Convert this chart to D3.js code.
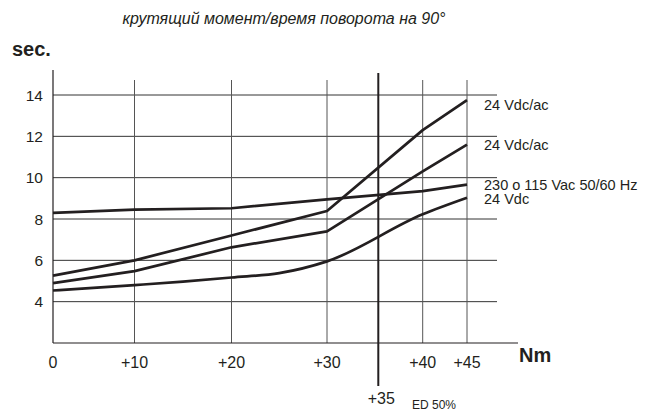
<!DOCTYPE html>
<html>
<head>
<meta charset="utf-8">
<script src="https://cdn.jsdelivr.net/npm/d3@7/dist/d3.min.js"></script>
<style>
  html, body { margin: 0; padding: 0; background: #fff; }
  svg { display: block; font-family: "Liberation Sans", Arial, sans-serif; }
</style>
</head>
<body>
<svg id="chart" width="653" height="414"></svg>
<script>
// ---- data ----
const title = "крутящий момент/время поворота на 90°";
const xTickValues = [0, 10, 20, 30, 40, 45];
const xTickLabels = ["0", "+10", "+20", "+30", "+40", "+45"];
const yTickValues = [4, 6, 8, 10, 12, 14];
const edTorque = 35;
const edLabel = "+35";
const edNote = "ED 50%";

const torqueA = [0, 10, 20, 30, 40, 45];
const valuesA = [5.26, 6.0, 7.2, 8.39, 12.3, 13.75];   // 24 Vdc/ac (upper)
const torqueB = [0, 10, 20, 30, 40, 45];
const valuesB = [4.9, 5.48, 6.63, 7.4, 10.3, 11.6];    // 24 Vdc/ac (lower)
const torqueD = [0, 10, 20, 30, 40, 45];
const valuesD = [8.3, 8.45, 8.52, 8.95, 9.35, 9.66];   // 230 o 115 Vac
const torqueC = [0, 10, 15, 20, 25, 30, 40, 45];
const valuesC = [4.54, 4.8, 4.97, 5.17, 5.38, 5.95, 8.23, 9.03]; // 24 Vdc

const seriesLabels = ["24 Vdc/ac", "24 Vdc/ac", "230 o 115 Vac 50/60 Hz", "24 Vdc"];

// ---- layout ----
const ink = "#231f20";
const svg = d3.select("#chart");

// the drawing's torque axis is not uniformly spaced
const x = d3.scaleLinear()
  .domain([0, 10, 20, 30, 35, 40, 45])
  .range([53, 134.5, 231.5, 327, 378.3, 422.7, 467]);
const y = d3.scaleLinear().domain([2, 14]).range([343, 95]);

const plotLeft = x(0), plotBottom = y(2);
const gridRight = 497, axisRight = 518;
const gridTop = 80, axisTop = 70;

// title
svg.append("text")
  .attr("x", 284).attr("y", 24)
  .attr("text-anchor", "middle")
  .attr("font-size", 16).attr("font-style", "italic")
  .attr("fill", ink)
  .text(title);

// units
svg.append("text").attr("x", 12).attr("y", 56)
  .attr("font-size", 20).attr("font-weight", "bold").attr("fill", ink).text("sec.");
svg.append("text").attr("x", 519).attr("y", 362)
  .attr("font-size", 20).attr("font-weight", "bold").attr("fill", ink).text("Nm");

// horizontal grid
svg.append("g").selectAll("line").data(yTickValues).join("line")
  .attr("x1", plotLeft).attr("x2", gridRight)
  .attr("y1", d => y(d)).attr("y2", d => y(d))
  .attr("stroke", "#333").attr("stroke-width", 1);

// vertical grid
svg.append("g").selectAll("line").data(xTickValues.filter(d => d > 0)).join("line")
  .attr("x1", d => x(d)).attr("x2", d => x(d))
  .attr("y1", gridTop).attr("y2", plotBottom)
  .attr("stroke", "#555").attr("stroke-width", 1);

// axes
svg.append("line").attr("x1", plotLeft).attr("x2", plotLeft)
  .attr("y1", axisTop).attr("y2", plotBottom).attr("stroke", ink).attr("stroke-width", 1.2);
svg.append("line").attr("x1", plotLeft).attr("x2", axisRight)
  .attr("y1", plotBottom).attr("y2", plotBottom).attr("stroke", ink).attr("stroke-width", 1.2);

// ED line
svg.append("line").attr("x1", x(edTorque)).attr("x2", x(edTorque))
  .attr("y1", 73).attr("y2", 386).attr("stroke", ink).attr("stroke-width", 2);

// tick labels
svg.append("g").selectAll("text").data(yTickValues).join("text")
  .attr("x", 43).attr("y", d => y(d)).attr("dy", "0.36em")
  .attr("text-anchor", "end").attr("font-size", 15.5).attr("fill", ink)
  .text(d => d);
svg.append("g").selectAll("text").data(xTickValues).join("text")
  .attr("x", d => x(d)).attr("y", 368)
  .attr("text-anchor", "middle").attr("font-size", 16).attr("fill", ink)
  .text((d, i) => xTickLabels[i]);
svg.append("text").attr("x", x(edTorque) + 3).attr("y", 404)
  .attr("text-anchor", "middle").attr("font-size", 16).attr("fill", ink).text(edLabel);
svg.append("text").attr("x", 412).attr("y", 409)
  .attr("font-size", 12).attr("fill", ink).text(edNote);

// curves
const line = d3.line().x(d => x(d[0])).y(d => y(d[1])).curve(d3.curveLinear);
const smooth = d3.line().x(d => x(d[0])).y(d => y(d[1])).curve(d3.curveMonotoneX);
const series = [
  { t: torqueD, v: valuesD, gen: line },
  { t: torqueC, v: valuesC, gen: smooth },
  { t: torqueB, v: valuesB, gen: line },
  { t: torqueA, v: valuesA, gen: line }
];
svg.append("g").selectAll("path").data(series).join("path")
  .attr("d", s => s.gen(s.t.map((t, i) => [t, s.v[i]])))
  .attr("fill", "none").attr("stroke", ink).attr("stroke-width", 2.7)
  .attr("stroke-linejoin", "round");

// series labels
const labelY = [110, 149.5, 189.5, 204];
svg.append("g").selectAll("text").data(seriesLabels).join("text")
  .attr("x", 484).attr("y", (d, i) => labelY[i])
  .attr("font-size", 14.5).attr("fill", ink)
  .text(d => d);
</script>
</body>
</html>
